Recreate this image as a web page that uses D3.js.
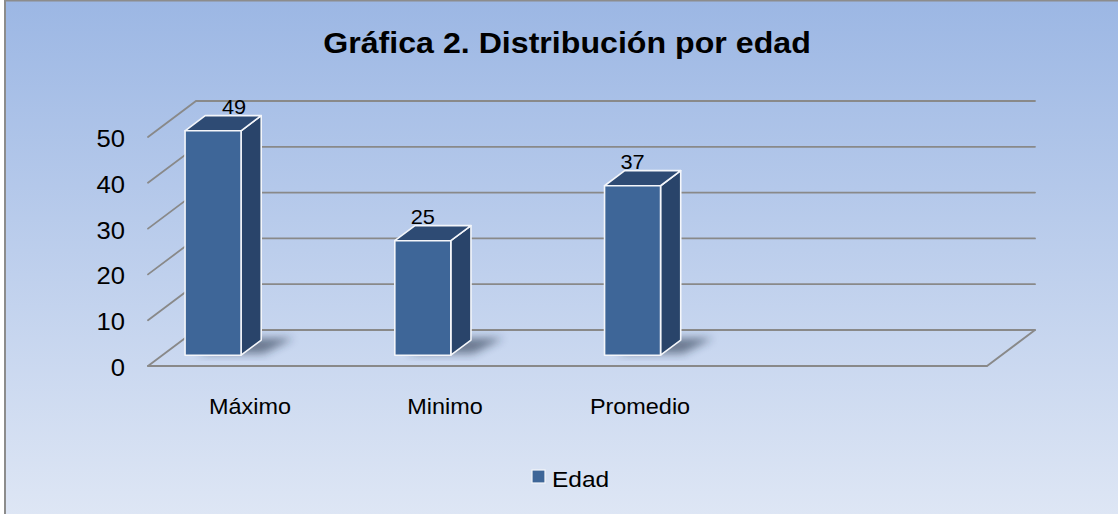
<!DOCTYPE html>
<html>
  <head>
    <meta charset="utf-8">
    <title>Gráfica 2. Distribución por edad</title>
    <script src="https://d3js.org/d3.v7.min.js"></script>
    <style>
      body { margin: 0; background: #fff; }
      text { font-family: "Liberation Sans", Arial, sans-serif; fill: #000; }
    </style>
  </head>
  <body>
    <svg></svg>
    <script>
      //begin: data
      var categories = ["Máximo", "Minimo", "Promedio", ""];
      var seriesName = "Edad";
      var edadValues = [49, 25, 37];
      var yTicks = [0, 10, 20, 30, 40, 50];
      //end: data

      //begin: layout conf.
      var svgWidth = 1118, svgHeight = 514;
      var front = {left: 148, right: 987, bottom: 366, top: 137};
      var depth = [48, -36];            // floor / wall depth offset
      var barDepth0 = 0.3, barDepth1 = 0.72;
      var stretch = 1.09;               // text is a bit wider than normal in the source
      var labelShift = [21, 0, 0];
      var colors = {front: "#3e6698", side: "#29446a", top: "#2e4b74", grid: "#898989"};
      //end: layout conf.

      var x = d3.scaleBand().domain(categories).range([front.left, front.right]);
      var xLabel = d3.scalePoint().domain(categories).range([250, 250 + 195 * 3]);
      var y = d3.scaleLinear().domain([0, 50]).range([front.bottom, front.top]);

      var svg = d3.select("svg").attr("width", svgWidth).attr("height", svgHeight);

      var defs = svg.append("defs");
      var grad = defs.append("linearGradient").attr("id", "bg")
        .attr("x1", 0).attr("y1", 0).attr("x2", 0).attr("y2", 1);
      grad.append("stop").attr("offset", "0%").attr("stop-color", "#9cb7e4");
      grad.append("stop").attr("offset", "100%").attr("stop-color", "#dfe7f5");
      defs.append("filter").attr("id", "blur").attr("x", "-50%").attr("y", "-50%")
        .attr("width", "200%").attr("height", "200%")
        .append("feGaussianBlur").attr("stdDeviation", 4);

      svg.append("rect")
        .attr("x", 5).attr("y", 0.5).attr("width", svgWidth + 10).attr("height", svgHeight + 10)
        .attr("fill", "url(#bg)").attr("stroke", "#8c8c8c").attr("stroke-width", 2);

      function txt(g, s, px, py, size, anchor, weight) {
        return g.append("text")
          .attr("transform", "translate(" + px + "," + py + ") scale(" + stretch + ",1)")
          .attr("text-anchor", anchor)
          .style("font-size", size + "px")
          .style("font-weight", weight || "normal")
          .text(s);
      }

      function pt(px, py, f) { return [px + depth[0] * f, py + depth[1] * f]; }

      // title
      txt(svg, "Gráfica 2. Distribución por edad", 567, 53, 29.5, "middle", "bold");

      // walls
      var grid = svg.append("g").attr("stroke", colors.grid).attr("stroke-width", 1.8)
        .attr("fill", "none").attr("stroke-linecap", "round");
      yTicks.forEach(function(v) {
        var a = [front.left, y(v)], b = pt(front.left, y(v), 1), c = pt(front.right, y(v), 1);
        grid.append("path").attr("d", "M" + [a, b, c].join("L"));
      });
      grid.append("path").attr("d", "M" + [[front.left, y(0)], [front.right, y(0)], pt(front.right, y(0), 1)].join("L"));

      // tick labels
      var ticks = svg.append("g");
      yTicks.forEach(function(v) { txt(ticks, v, 125, y(v) + 10, 23.5, "end"); });

      // bars
      var bars = svg.append("g").selectAll("g").data(edadValues).enter().append("g");
      var bw = x.bandwidth() * 0.267;
      function bx(d, i) { return x(categories[i]) + x.bandwidth() * 0.108; }

      bars.append("path")
        .attr("fill", "#1a2a40").attr("opacity", 0.55).attr("filter", "url(#blur)")
        .attr("d", function(d, i) {
          var l = bx(d, i) + 10, r = l + bw + 10;
          return "M" + [pt(l, y(0), barDepth0 + 0.05), pt(r, y(0), barDepth0 + 0.05),
            pt(r + 10, y(0), barDepth1 + 0.05), pt(l + 10, y(0), barDepth1 + 0.05)].join("L") + "Z";
        });

      var edge = {stroke: "#f4f6fa", "stroke-width": 1.6, "stroke-linejoin": "round"};
      function face(sel, color, fn) {
        sel.append("path").attr("fill", color)
          .attr("stroke", edge.stroke).attr("stroke-width", edge["stroke-width"])
          .attr("stroke-linejoin", edge["stroke-linejoin"])
          .attr("d", function(d, i) { return "M" + fn(d, i).join("L") + "Z"; });
      }
      face(bars, colors.side, function(d, i) {
        var r = bx(d, i) + bw;
        return [pt(r, y(0), barDepth0), pt(r, y(0), barDepth1), pt(r, y(d), barDepth1), pt(r, y(d), barDepth0)];
      });
      face(bars, colors.top, function(d, i) {
        var l = bx(d, i), r = l + bw;
        return [pt(l, y(d), barDepth0), pt(r, y(d), barDepth0), pt(r, y(d), barDepth1), pt(l, y(d), barDepth1)];
      });
      face(bars, colors.front, function(d, i) {
        var l = bx(d, i), r = l + bw;
        return [pt(l, y(0), barDepth0), pt(r, y(0), barDepth0), pt(r, y(d), barDepth0), pt(l, y(d), barDepth0)];
      });

      // value labels
      bars.each(function(d, i) {
        var c = pt(bx(d, i) + bw / 2, y(d), barDepth1);
        txt(d3.select(this), d, c[0] - (depth[0] * (barDepth1 - barDepth0)) + labelShift[i], c[1] - 1.5, 20, "middle");
      });

      // category labels
      var cats = svg.append("g");
      categories.forEach(function(c) { if (c) txt(cats, c, xLabel(c), 414, 21.5, "middle"); });

      // legend
      var legend = svg.append("g");
      legend.append("rect").attr("x", 532).attr("y", 470).attr("width", 13).attr("height", 13)
        .attr("fill", colors.front).attr("stroke", "#f4f6fa").attr("stroke-width", 1.2);
      txt(legend, seriesName, 552, 487, 22.5, "start");
    </script>
  </body>
</html>
